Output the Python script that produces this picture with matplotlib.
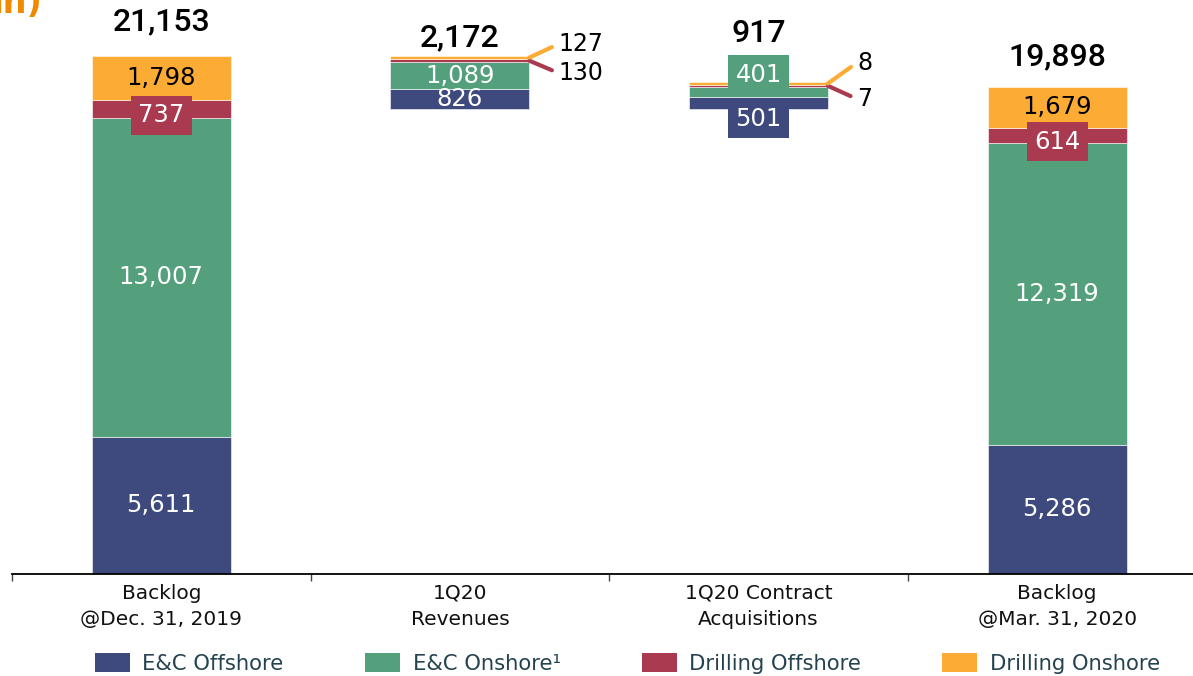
import numpy as np
import matplotlib
matplotlib.use("Agg")
import matplotlib.pyplot as plt
from matplotlib.patches import Patch

# ====================================
# data
# ====================================
categories = ["Backlog\n@Dec. 31, 2019", "1Q20\nRevenues",
              "1Q20 Contract\nAcquisitions", "Backlog\n@Mar. 31, 2020"]
segments = ["E&C Offshore", "E&C Onshore\u00b9", "Drilling Offshore", "Drilling Onshore"]
ec_offshore = [5611, 826, 501, 5286]
ec_onshore = [13007, 1089, 401, 12319]
drill_offshore = [737, 130, 7, 614]
drill_onshore = [1798, 127, 8, 1679]
totals = [21153, 2172, 917, 19898]

colors = ["#3E4A7E", "#55A07C", "#AA3A50", "#FCAC34"]
values = np.array([ec_offshore, ec_onshore, drill_offshore, drill_onshore])

# waterfall bases: revenues go down from the first backlog, acquisitions go up again
bases = [0, totals[0] - totals[1], totals[0] - totals[1], 0]
min_h = 100  # smallest drawn height so tiny segments stay visible

fsz = 17.5
x = np.arange(len(categories))
width = 0.465

# ====================================
# plot
# ====================================
fig = plt.figure(figsize=(11.93, 6.76), dpi=100)
ax = fig.add_axes([12 / 1193, 102 / 676, 1 - 12 / 1193, 574 / 676])

# label style per (bar, segment): (mode, dy in points)
# mode: 'c' centered white, 'k' centered black, 'box' with coloured box, 'lead' leader line
label_mode = {
    (0, 0): ("c", 0), (0, 1): ("c", 0), (0, 2): ("box", -4.5), (0, 3): ("k", 0),
    (1, 0): ("c", 0), (1, 1): ("c", 0), (1, 2): ("lead", -8.9), (1, 3): ("lead", 9.7),
    (2, 0): ("box", -11.5), (2, 1): ("box", 12.5), (2, 2): ("lead", -9.5), (2, 3): ("lead", 15),
    (3, 0): ("c", 0), (3, 1): ("c", 0), (3, 2): ("box", -4.5), (3, 3): ("k", 0),
}
total_dy = [24.5, 13, 35, 21.5]  # points above bar top

for i in range(len(categories)):
    bottom = bases[i]
    for j in range(len(segments)):
        v = values[j, i]
        h = max(v, min_h)
        ax.bar(x[i], h, width, bottom=bottom, color=colors[j],
               edgecolor="white", linewidth=0.4)
        mid = bottom + h / 2
        mode, dy = label_mode[(i, j)]
        txt = f"{v:,}"
        if mode == "c":
            ax.text(x[i], mid, txt, ha="center", va="center", color="white", fontsize=fsz)
        elif mode == "k":
            ax.text(x[i], mid, txt, ha="center", va="center", color="black", fontsize=fsz)
        elif mode == "box":
            ax.annotate(txt, (x[i], mid), xytext=(0, dy), textcoords="offset points",
                        ha="center", va="center", color="white", fontsize=fsz,
                        bbox=dict(boxstyle="square,pad=0.3", fc=colors[j], ec="none"))
        else:
            ax.annotate(txt, (x[i] + width / 2, mid), xytext=(21, dy),
                        textcoords="offset points", ha="left", va="center",
                        color="black", fontsize=17,
                        arrowprops=dict(arrowstyle="-", color=colors[j], lw=3,
                                        shrinkA=3, shrinkB=0, relpos=(0, 0.5)))
        bottom += h
    # total above bar
    ax.annotate(f"{totals[i]:,}", (x[i], bottom), xytext=(0, total_dy[i]),
                textcoords="offset points", ha="center", va="center",
                fontsize=23, family="Roboto", fontweight="medium", color="black")

ax.set_xlim(-0.5, 3.455)
ax.set_ylim(0, 23440)
for s in ["top", "right", "left"]:
    ax.spines[s].set_visible(False)
ax.spines["bottom"].set_linewidth(1.3)
ax.set_yticks([])
ax.set_xticks(x)
ax.set_xticklabels(categories, fontsize=14.5, linespacing=1.5, color="#111111")
ax.tick_params(axis="x", which="major", length=0, pad=7)
ax.set_xticks(np.arange(-0.5, 3.0, 1.0), minor=True)
ax.tick_params(axis="x", which="minor", length=5, width=1, color="#444444")

handles = [Patch(facecolor=c, edgecolor="none") for c in colors]
fig.legend(handles, segments, loc="center", bbox_to_anchor=(0.526, 0.019), ncol=4,
           frameon=False, fontsize=15.2, handlelength=1.65, handleheight=1.05,
           handletextpad=0.6, columnspacing=3.85, borderpad=0, labelcolor="#24434F")

# clipped unit text at the top left
fig.text(42 / 1193, 1 - 13 / 676, "mn)", ha="right", va="baseline", fontsize=24,
         fontweight="bold", color="#F08A00")

fig.savefig("out.png", dpi=100)
